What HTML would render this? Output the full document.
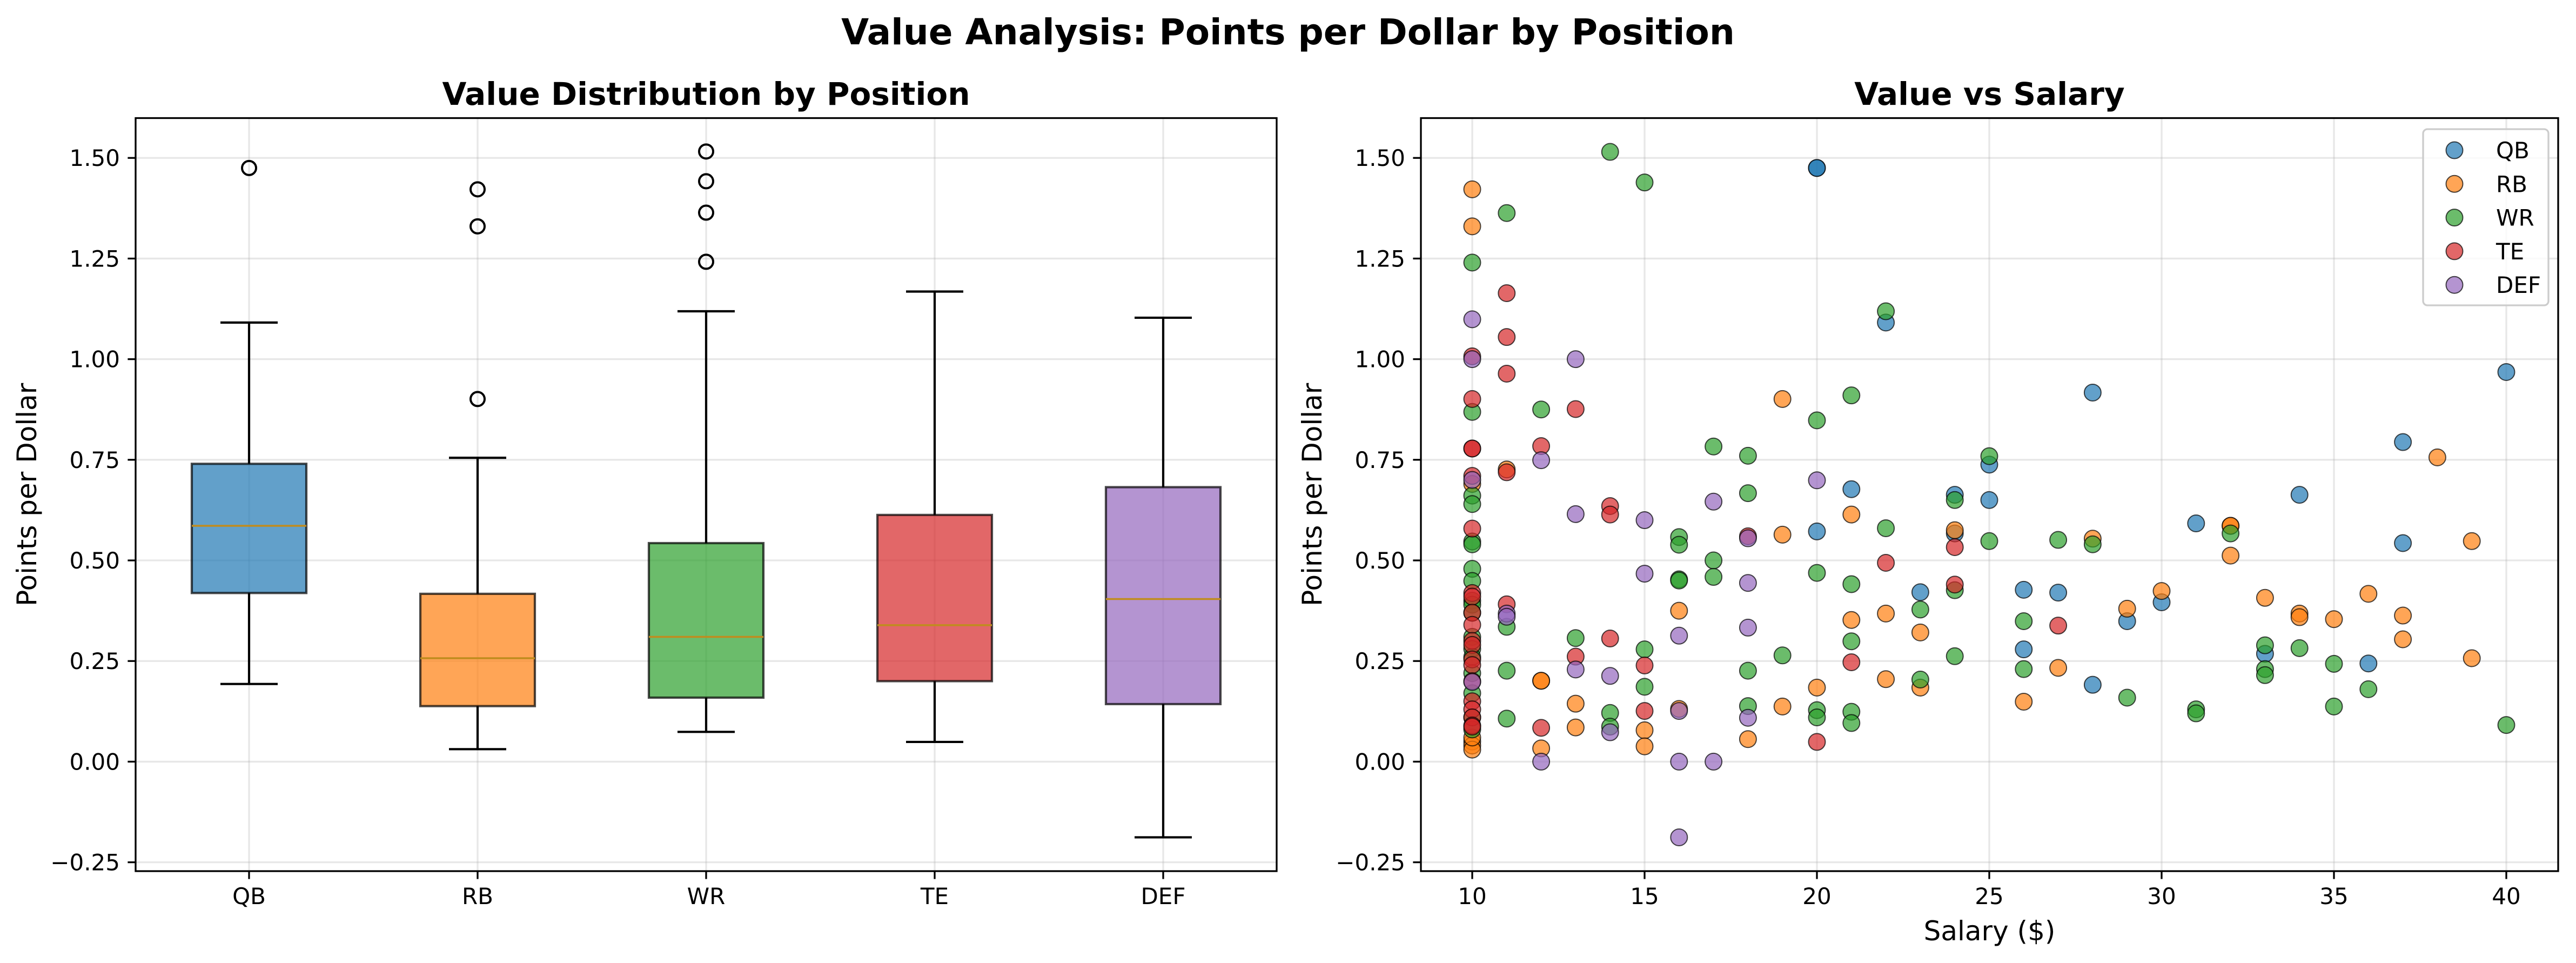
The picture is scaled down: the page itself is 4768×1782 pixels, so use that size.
<!DOCTYPE html>
<html><head><meta charset="utf-8">
<style>
html,body{margin:0;padding:0;background:#fff;}
svg text{font-family:"DejaVu Sans","Liberation Sans",sans-serif;}
</style></head>
<body>
<svg id="chart" width="4768" height="1777" viewBox="0 0 4768 1777" xmlns="http://www.w3.org/2000/svg">
<rect width="4768" height="1777" fill="#fff"/>
<text x="2384" y="82" text-anchor="middle" font-size="66" font-weight="bold">Value Analysis: Points per Dollar by Position</text>
</svg>
<script>
// ---- data ----
const positions = ["QB","RB","WR","TE","DEF"];
const colors = ["#1f77b4","#ff7f0e","#2ca02c","#d62728","#9467bd"];
const boxQ1 = [0.419,0.138,0.159,0.200,0.143];
const boxMedian = [0.586,0.257,0.310,0.339,0.404];
const boxQ3 = [0.740,0.417,0.543,0.613,0.682];
const boxWhiskerLow = [0.193,0.031,0.074,0.049,-0.188];
const boxWhiskerHigh = [1.091,0.755,1.119,1.168,1.103];
const boxOutliers = [[1.475],[1.422,1.330,0.901],[1.516,1.442,1.364,1.242],[],[]];
const yTicks = [-0.25,0,0.25,0.5,0.75,1.0,1.25,1.5];
const yTickLabels = ["\u22120.25","0.00","0.25","0.50","0.75","1.00","1.25","1.50"];
const xTicks = [10,15,20,25,30,35,40];

const qbSalary = [20,20,22,20,21,23,24,24,25,25,26,26,27,28,28,29,30,31,33,34,36,37,37,40];
const qbValue = [1.475,1.475,1.091,0.572,0.677,0.421,0.663,0.567,0.738,0.650,0.427,0.279,0.420,0.917,0.191,0.349,0.396,0.592,0.268,0.663,0.244,0.794,0.543,0.968];
const rbSalary = [10,10,10,10,10,10,10,11,12,12,12,13,13,15,15,16,16,18,19,19,19,20,21,21,22,22,23,23,24,26,27,28,29,30,32,32,32,33,34,34,35,36,37,37,38,39,39];
const rbValue = [1.422,1.330,0.69,0.05,0.04,0.03,0.06,0.726,0.201,0.201,0.033,0.144,0.085,0.078,0.038,0.375,0.131,0.056,0.901,0.564,0.137,0.184,0.614,0.352,0.368,0.205,0.321,0.184,0.575,0.149,0.233,0.554,0.380,0.424,0.586,0.586,0.512,0.407,0.368,0.359,0.354,0.417,0.363,0.304,0.756,0.548,0.257];
const wrSalary = [10,10,10,10,10,10,10,10,10,10,10,10,10,10,10,10,10,10,11,11,11,11,12,13,14,14,14,15,15,15,16,16,16,16,17,17,17,18,18,18,18,19,20,20,20,20,21,21,21,21,21,22,22,23,23,24,24,24,25,25,26,26,27,28,29,31,31,32,33,33,33,34,35,35,36,40];
const wrValue = [1.240,0.869,0.661,0.640,0.547,0.540,0.479,0.449,0.40,0.39,0.37,0.31,0.28,0.26,0.22,0.17,0.11,0.08,1.363,0.335,0.226,0.107,0.875,0.307,1.515,0.121,0.087,1.439,0.279,0.186,0.558,0.539,0.453,0.450,0.783,0.500,0.459,0.760,0.667,0.226,0.138,0.264,0.848,0.469,0.128,0.110,0.910,0.441,0.299,0.124,0.096,1.119,0.580,0.378,0.204,0.650,0.426,0.262,0.759,0.548,0.349,0.230,0.551,0.540,0.159,0.130,0.120,0.567,0.289,0.230,0.215,0.282,0.243,0.137,0.180,0.091];
const teSalary = [10,10,10,10,10,10,10,10,10,10,10,10,10,10,10,10,10,10,10,10,11,11,11,11,11,12,12,13,13,14,14,14,15,15,18,20,21,22,24,24,27];
const teValue = [1.007,0.901,0.778,0.778,0.710,0.579,0.419,0.41,0.37,0.34,0.30,0.29,0.254,0.24,0.20,0.15,0.13,0.11,0.09,0.087,1.164,1.055,0.964,0.719,0.391,0.784,0.084,0.876,0.261,0.635,0.614,0.306,0.239,0.126,0.560,0.049,0.247,0.494,0.533,0.440,0.338];
const defSalary = [10,10,10,10,11,11,12,12,13,13,13,14,14,15,15,16,16,16,16,17,17,18,18,18,18,20];
const defValue = [1.099,1.0,0.70,0.198,0.368,0.360,0.749,0.0,1.0,0.615,0.229,0.213,0.073,0.600,0.467,0.313,0.126,0.0,-0.188,0.646,0.0,0.555,0.444,0.333,0.109,0.699];

// ---- layout ----
const svg = document.getElementById('chart');
const NS = "http://www.w3.org/2000/svg";
function mk(tag, attrs, parent){
  const e = document.createElementNS(NS, tag);
  for (const k in attrs) e.setAttribute(k, attrs[k]);
  (parent||svg).appendChild(e);
  return e;
}
const yMin=-0.272, yMax=1.599, plotTop=218.5, plotBottom=1612;
function yS(v){ return plotBottom - (v - yMin)/(yMax - yMin)*(plotBottom - plotTop); }
const L = {x0:251, x1:2363};
function catX(i){ return 461 + i*423; }
const R = {x0:2630, x1:4735};
function xS(s){ return 2725 + (s-10)*63.8; }

function axesFrame(ax, name){
  const r = mk('rect',{x:ax.x0,y:plotTop,width:ax.x1-ax.x0,height:plotBottom-plotTop,fill:'none',stroke:'#000','stroke-width':3.3});
  
  
}
function yAxis(ax, name){
  const g = mk('g',{});
  
  
  yTicks.forEach((t,i)=>{
    const y = yS(t);
    mk('line',{x1:ax.x0,x2:ax.x1,y1:y,y2:y,stroke:'#b0b0b0','stroke-opacity':0.3,'stroke-width':3.3},g);
    mk('line',{x1:ax.x0-14.6,x2:ax.x0,y1:y,y2:y,stroke:'#000','stroke-width':3.3},g);
    const tx = mk('text',{x:ax.x0-29,y:y+15,'text-anchor':'end','font-size':42},g);
    tx.textContent = yTickLabels[i];
    
    
  });
  const yl = mk('text',{x:0,y:0,'text-anchor':'middle','font-size':50,transform:`translate(${ax.x0-184},${(plotTop+plotBottom)/2}) rotate(-90)`});
  yl.textContent = 'Points per Dollar';
  
  
}

// ---- left: box plot ----
yAxis(L,'boxplot');
positions.forEach((p,i)=>{
  const x = catX(i);
  mk('line',{x1:x,x2:x,y1:plotTop,y2:plotBottom,stroke:'#b0b0b0','stroke-opacity':0.3,'stroke-width':3.3});
  mk('line',{x1:x,x2:x,y1:plotBottom,y2:plotBottom+14.6,stroke:'#000','stroke-width':3.3});
  const t = mk('text',{x:x,y:1673,'text-anchor':'middle','font-size':42});
  t.textContent = p;
  
  
});
positions.forEach((p,i)=>{
  const x = catX(i), hw = 106, cw = 53;
  const g = mk('g',{});
  
  
  mk('line',{x1:x,x2:x,y1:yS(boxQ3[i]),y2:yS(boxWhiskerHigh[i]),stroke:'#000','stroke-width':4.2},g);
  mk('line',{x1:x,x2:x,y1:yS(boxQ1[i]),y2:yS(boxWhiskerLow[i]),stroke:'#000','stroke-width':4.2},g);
  mk('line',{x1:x-cw,x2:x+cw,y1:yS(boxWhiskerHigh[i]),y2:yS(boxWhiskerHigh[i]),stroke:'#000','stroke-width':4.2},g);
  mk('line',{x1:x-cw,x2:x+cw,y1:yS(boxWhiskerLow[i]),y2:yS(boxWhiskerLow[i]),stroke:'#000','stroke-width':4.2},g);
  mk('rect',{x:x-hw,y:yS(boxQ3[i]),width:2*hw,height:yS(boxQ1[i])-yS(boxQ3[i]),fill:colors[i],'fill-opacity':0.7,stroke:'#000','stroke-opacity':0.7,'stroke-width':4.2},g);
  mk('line',{x1:x-hw,x2:x+hw,y1:yS(boxMedian[i]),y2:yS(boxMedian[i]),stroke:'#c08c1e','stroke-width':3.5},g);
  boxOutliers[i].forEach(v=>{
    const c = mk('circle',{cx:x,cy:yS(v),r:13,fill:'none',stroke:'#000','stroke-width':4},g);
    
    
  });
});
axesFrame(L,'boxplot');
const lt = mk('text',{x:(L.x0+L.x1)/2,y:194,'text-anchor':'middle','font-size':58,'font-weight':'bold'});
lt.textContent = 'Value Distribution by Position';



// ---- right: scatter ----
yAxis(R,'scatter');
xTicks.forEach(t=>{
  const x = xS(t);
  mk('line',{x1:x,x2:x,y1:plotTop,y2:plotBottom,stroke:'#b0b0b0','stroke-opacity':0.3,'stroke-width':3.3});
  mk('line',{x1:x,x2:x,y1:plotBottom,y2:plotBottom+14.6,stroke:'#000','stroke-width':3.3});
  const tx = mk('text',{x:x,y:1673,'text-anchor':'middle','font-size':42});
  tx.textContent = String(t);
  
  
});
const series = [[qbSalary,qbValue],[rbSalary,rbValue],[wrSalary,wrValue],[teSalary,teValue],[defSalary,defValue]];
series.forEach((s,i)=>{
  const g = mk('g',{});
  
  
  s[0].forEach((sal,j)=>{
    const c = mk('circle',{cx:xS(sal),cy:yS(s[1][j]),r:15.5,fill:colors[i],'fill-opacity':0.7,stroke:'#000','stroke-opacity':0.7,'stroke-width':2},g);
    
    
  });
});
axesFrame(R,'scatter');
const rt = mk('text',{x:(R.x0+R.x1)/2,y:194,'text-anchor':'middle','font-size':58,'font-weight':'bold'});
rt.textContent = 'Value vs Salary';


const xl = mk('text',{x:(R.x0+R.x1)/2,y:1740,'text-anchor':'middle','font-size':50});
xl.textContent = 'Salary ($)';



// legend
const lg = mk('g',{});


mk('rect',{x:4485,y:239,width:232,height:326,rx:8,fill:'#fff','fill-opacity':0.8,stroke:'#ccc','stroke-width':3.3},lg);
positions.forEach((p,i)=>{
  const y = 278 + i*62.3;
  const e = mk('g',{},lg);
  
  
  mk('circle',{cx:4543,cy:y,r:15.5,fill:colors[i],'fill-opacity':0.7,stroke:'#000','stroke-opacity':0.7,'stroke-width':2},e);
  const t = mk('text',{x:4620,y:y+15,'font-size':42},e);
  t.textContent = p;
});
</script>
</body></html>
